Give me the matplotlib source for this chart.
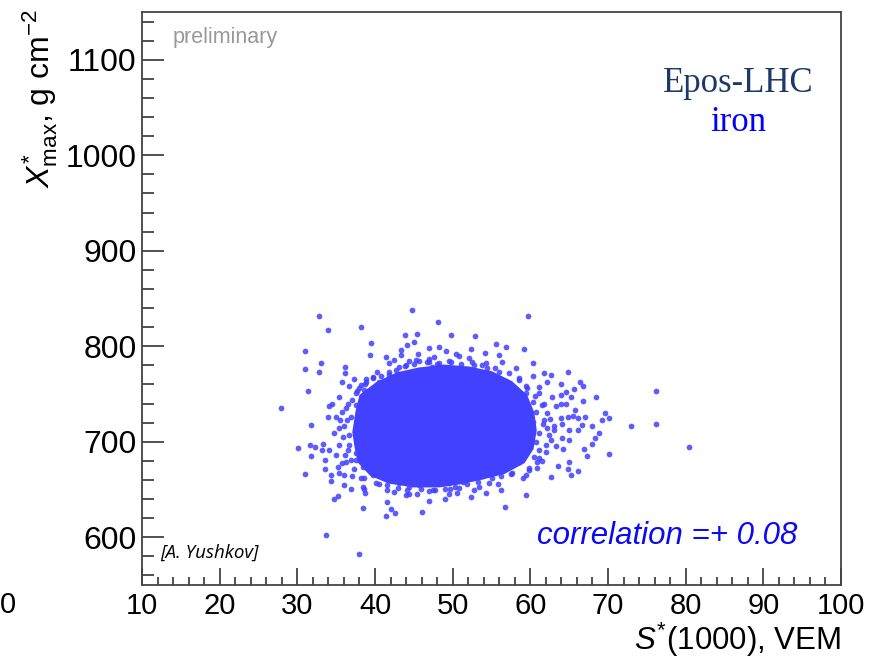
import numpy as np
import matplotlib
matplotlib.use("Agg")
from matplotlib import pyplot as plt
from matplotlib.ticker import MultipleLocator

# individual events (S*(1000) in VEM, Xmax* in g/cm2)
points_x = [32.8, 44.7, 33.9, 38.2, 31.0, 39.5, 43.8, 45.4, 33.0, 31.0, 32.8, 36.1, 36.1, 39.3, 31.4,
            27.9, 31.8, 35.8, 37.3, 35.4, 34.1, 33.9, 36.7, 38.0, 38.8, 40.3, 41.4, 41.8, 42.5, 43.3,
            44.1, 45.0, 42.7, 44.0, 45.3,
            48.1, 59.7, 49.8, 52.9, 47.0, 48.2, 49.1, 52.3, 55.6, 56.9, 59.2, 54.1, 56.0, 50.8, 60.3,
            56.4, 47.0, 54.3, 52.5, 55.5, 58.1, 61.8, 62.6, 64.8, 57.3, 58.6, 60.3, 62.2, 63.9, 59.4,
            61.1, 62.8, 64.6, 63.3, 63.9, 64.8, 64.1, 62.2,
            66.4, 66.8, 65.6, 65.2, 66.8, 68.4, 76.2, 65.8, 65.5, 66.2, 67.1, 69.6, 69.2, 70.1, 66.6,
            68.0, 72.9, 76.2,
            30.1, 31.6, 32.3, 33.3, 33.2, 31.7, 34.1, 33.5, 31.0, 33.5, 34.3, 34.3, 35.2, 36.0, 36.9,
            35.2, 34.7, 38.6, 38.7, 38.5, 33.7, 38.0, 41.6, 41.4, 42.1, 42.6, 42.5, 44.0, 44.4, 37.1,
            35.4, 36.3, 37.5, 35.0,
            46.0, 46.9, 49.0, 52.3, 56.7, 59.4, 46.9, 47.7, 49.7, 50.8, 52.8, 54.3, 56.2, 54.7, 55.8,
            59.0, 62.7, 63.6, 61.5, 59.8, 57.7, 64.2, 51.3,
            80.4, 70.1, 67.3, 66.9, 68.0, 68.3, 68.9, 66.1, 65.3, 65.0,
            38.2, 38.6, 37.5, 34.5, 36.5, 37.5, 35.8, 35.0, 36.9, 37.7, 36.0, 34.7, 36.7, 37.7, 35.4,
            36.5, 37.5, 35.8, 38.4, 36.0, 38.6, 39.7, 38.4, 40.1, 41.6, 43.1, 44.4, 45.7, 47.0, 48.3,
            49.5,
            43.1, 45.7, 47.0, 48.3, 49.5, 50.4, 39.7, 41.8, 43.3, 45.5, 47.4, 49.1, 38.8, 40.5,
            53.8, 59.4, 61.1, 63.9, 60.3, 61.8, 64.6, 60.7, 63.9, 60.3, 61.6, 63.1, 65.0, 66.1, 59.8,
            61.1, 62.4, 64.1, 65.0, 60.7, 62.0, 59.8, 61.1, 59.2, 60.5, 58.6, 60.9, 57.3, 59.4, 56.2,
            55.1, 53.8, 52.5, 53.4, 50.6, 64.8,
            # dense band just around the core
            36.4, 35.9, 36.7, 36.2, 36.9, 35.4, 37.1, 36.3, 35.5, 37.3, 38.2, 37.7, 38.7, 39.8,
            61.8, 62.2, 62.7, 62.0, 61.1, 63.1, 61.5, 60.6, 59.6, 58.6, 62.5, 60.9, 59.8, 63.3,
            41.8, 43.8, 45.0, 46.7, 48.0, 49.8, 51.1, 52.8, 54.4, 56.0, 40.8, 52.1, 47.6, 44.4,
            42.9, 44.1, 45.9, 47.5, 49.0, 50.3, 51.9, 53.2, 55.0, 40.5, 41.6, 45.4, 49.5, 57.5]
points_y = [832, 838, 817, 820, 795, 803, 812, 813, 782, 776, 773, 778, 772, 791, 753,
            735, 718, 763, 766, 747, 737, 726, 758, 756, 766, 773, 789, 782, 786, 796,
            801, 804, 775, 780, 786,
            825, 832, 812, 811, 798, 799, 795, 797, 802, 799, 797, 793, 791, 790, 782,
            784, 784, 782, 783, 777, 777, 772, 770, 773, 772, 767, 769, 763, 760, 758,
            757, 747, 752, 737, 740, 726, 719, 730,
            763, 758, 755, 747, 743, 747, 753, 733, 727, 725, 726, 730, 723, 725, 718,
            717, 716, 719,
            693, 697, 695, 698, 691, 685, 691, 681, 666, 671, 665, 659, 674, 655, 651,
            643, 640, 651, 646, 631, 602, 582, 637, 622, 630, 625, 647, 644, 645, 664,
            667, 679, 681, 686,
            626, 638, 640, 642, 632, 644, 648, 649, 651, 652, 650, 646, 650, 657, 656,
            662, 663, 675, 680, 672, 667, 692, 658,
            695, 687, 685, 692, 698, 704, 709, 669, 665, 679,
            759, 754, 751, 740, 740, 738, 731, 726, 726, 721, 716, 709, 707, 702, 697,
            691, 688, 678, 674, 665, 662, 665, 653, 657, 655, 657, 653, 655, 657, 658,
            657,
            778, 785, 787, 782, 785, 792, 768, 770, 791, 792, 778, 777, 763, 763,
            780, 751, 751, 749, 742, 740, 740, 731, 725, 721, 719, 716, 712, 712, 711,
            709, 707, 704, 702, 700, 697, 695, 691, 686, 684, 679, 672, 674, 665, 664,
            667, 664, 662, 653, 646, 671,
            723, 705, 697, 686, 681, 714, 744, 735, 723, 671, 662, 753, 760, 767,
            723, 714, 702, 689, 683, 712, 738, 748, 756, 765, 724, 679, 670, 696,
            773, 779, 781, 783, 781, 783, 781, 780, 777, 773, 769, 788, 789, 785,
            652, 650, 651, 650, 651, 653, 656, 658, 662, 656, 650, 645, 645, 666]

# outline of the saturated core where markers merge into a solid area
core_x = [37.3, 37.7, 38.2, 40.3, 42.9, 45.7, 48.9, 52.1, 55.0, 57.5, 59.4, 60.3,
          60.6, 60.2, 59.1, 56.6, 53.7, 50.8, 48.3, 45.0, 41.8, 39.5, 38.0, 37.6]
core_y = [710, 731, 748, 761, 771, 776, 779, 777, 772, 762, 748, 730,
          712, 693, 679, 668, 662, 657, 654, 654, 658, 666, 679, 694]

xticks = [10, 20, 30, 40, 50, 60, 70, 80, 90, 100]
yticks = [600, 700, 800, 900, 1000, 1100]

plt.rcParams['font.family'] = ['Liberation Sans', 'DejaVu Sans']
plt.rcParams['mathtext.fontset'] = 'custom'
plt.rcParams['mathtext.rm'] = 'Liberation Sans'
plt.rcParams['mathtext.it'] = 'Liberation Sans:italic'

fig = plt.figure(figsize=(8.8, 6.62), dpi=100)
ax = fig.add_axes([142 / 880, 1 - 585 / 662, 699 / 880, 573 / 662])

dot = '#4141ff'
ax.fill(core_x, core_y, color=dot, lw=2.5, ec=dot, zorder=2)
ax.scatter(points_x, points_y, s=17, c=dot, alpha=0.85, linewidths=0, zorder=3)

ax.set_xlim(10, 100)
ax.set_ylim(550, 1150)
ax.set_xticks(xticks)
ax.set_yticks(yticks)
ax.xaxis.set_minor_locator(MultipleLocator(2))
ax.yaxis.set_minor_locator(MultipleLocator(20))
ax.tick_params(axis='both', which='both', direction='in', color='#333333', width=1.2,
               labelsize=21, top=False, right=False)
ax.tick_params(axis='x', which='major', length=12, pad=5)
ax.tick_params(axis='x', which='minor', length=5.5)
ax.tick_params(axis='y', which='major', length=16, pad=4, labelsize=23)
ax.tick_params(axis='y', which='minor', length=8.5)
for sp in ax.spines.values():
    sp.set_color('#444444')
    sp.set_linewidth(1.3)

# axis titles, ROOT style (aligned to the axis end)
fig.text(40 / 880, 1 - 9 / 662, r'$X^{*}_{\mathrm{max}}$, g cm$^{-2}$', rotation=90,
         ha='center', va='top', fontsize=23)
fig.text(841 / 880, 1 - 659 / 662, r'$S^{*}$(1000), VEM', ha='right', va='bottom',
         fontsize=22.5)
# piece of the neighbouring panel's tick label
fig.text(0.0, 1 - 605 / 662, '0', ha='left', va='center', fontsize=21)

ax.text(0.044, 0.955, 'preliminary', transform=ax.transAxes, color='#999999',
        fontsize=15.5, ha='left', va='center')
ax.text(0.853, 0.876, 'Epos-LHC', transform=ax.transAxes, color='#1b3a6a',
        family='Liberation Serif', fontsize=25, ha='center', va='center')
ax.text(0.853, 0.808, 'iron', transform=ax.transAxes, color='#0000ff',
        family='Liberation Serif', fontsize=25, ha='center', va='center')
ax.text(0.937, 0.085, 'correlation =+ 0.08', transform=ax.transAxes, color='#0a0af5',
        style='italic', fontsize=22.5, ha='right', va='center')
ax.text(0.026, 0.056, '[A. Yushkov]', transform=ax.transAxes, color='black',
        family=['Open Sans', 'DejaVu Sans'], style='italic', fontsize=13.5,
        ha='left', va='center')

fig.savefig('out.png', dpi=100)
